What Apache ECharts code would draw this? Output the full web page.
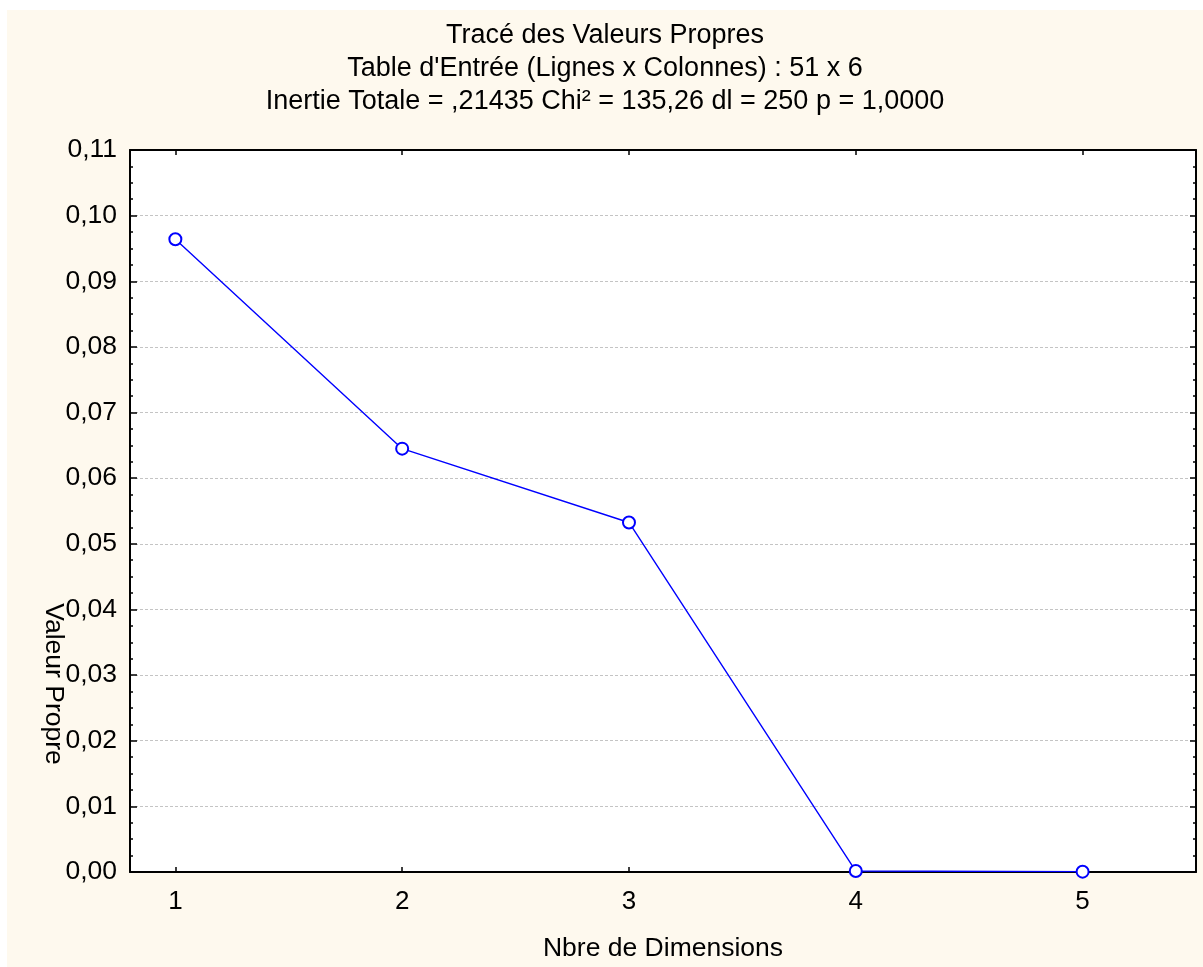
<!DOCTYPE html>
<html>
<head>
<meta charset="utf-8">
<title>Tracé des Valeurs Propres</title>
<script src="https://cdn.jsdelivr.net/npm/echarts@6/dist/echarts.min.js"></script>
<style>
  html, body { margin: 0; padding: 0; background: #ffffff; }
  #chart { position: absolute; left: 7px; top: 10px; width: 1196px; height: 957px; background: #fef9ee; }
</style>
</head>
<body>
<div id="chart"></div>
<script>
// Eigenvalues of the correspondence analysis (51 x 6 table)
const dimensions = [1, 2, 3, 4, 5];
const eigenvalues = [0.09640, 0.06450, 0.05325, 0.00015, 0.00005];
const xTicks = [1, 2, 3, 4, 5];

const titleLines = [
  "Tracé des Valeurs Propres",
  "Table d'Entrée (Lignes x Colonnes) : 51 x 6",
  "Inertie Totale = ,21435 Chi² = 135,26 dl = 250 p = 1,0000"
];
const xName = "Nbre de Dimensions";
const yName = "Valeur Propre";

const FONT = "'Liberation Sans', Arial, sans-serif";
const points = dimensions.map((d, i) => [d, eigenvalues[i]]);
const fmt = v => v.toFixed(2).replace('.', ',');

const chart = echarts.init(document.getElementById('chart'), null, { renderer: 'canvas' });

const axisLineStyle = { color: '#000', width: 2 };

chart.setOption({
  animation: false,
  backgroundColor: 'transparent',
  title: titleLines.map((t, i) => ({
    text: t,
    left: 'center',
    top: 12 + i * 33,
    padding: 0,
    textStyle: { fontFamily: FONT, fontSize: 27, fontWeight: 'normal', color: '#000', lineHeight: 27 }
  })),
  grid: {
    left: 123, top: 140, right: 7, bottom: 91,
    show: true, backgroundColor: '#ffffff', borderWidth: 0
  },
  xAxis: [{
    type: 'value',
    min: 0.8, max: 5.5,
    position: 'bottom',
    name: xName,
    nameLocation: 'middle',
    nameGap: 63,
    nameTextStyle: { fontFamily: FONT, fontSize: 26.5, color: '#000' },
    axisLine: { show: true, onZero: false, lineStyle: axisLineStyle },
    axisTick: { show: true, inside: true, length: 5, customValues: xTicks, lineStyle: { color: '#000', width: 1.5 } },
    axisLabel: { show: true, margin: 17, customValues: xTicks, fontFamily: FONT, fontSize: 26, color: '#000', formatter: v => String(v) },
    splitLine: { show: false }
  }, {
    type: 'value',
    min: 0.8, max: 5.5,
    position: 'top',
    axisLine: { show: true, onZero: false, lineStyle: axisLineStyle },
    axisTick: { show: true, inside: true, length: 5, customValues: xTicks, lineStyle: { color: '#000', width: 1.5 } },
    axisLabel: { show: false },
    splitLine: { show: false }
  }],
  yAxis: [{
    type: 'value',
    min: 0, max: 0.11, interval: 0.01,
    position: 'left',
    axisLine: { show: true, onZero: false, lineStyle: axisLineStyle },
    axisTick: { show: true, inside: true, length: 7, lineStyle: { color: '#000', width: 1.5 } },
    minorTick: { show: true, splitNumber: 4, length: 3, lineStyle: { color: '#000', width: 1.5 } },
    axisLabel: { show: true, margin: 13, fontFamily: FONT, fontSize: 26.5, color: '#000', formatter: fmt, showMinLabel: true, showMaxLabel: true },
    splitLine: { show: true, lineStyle: { color: '#c4c4c4', width: 1, type: [3, 2] } }
  }, {
    type: 'value',
    min: 0, max: 0.11, interval: 0.01,
    position: 'right',
    axisLine: { show: true, onZero: false, lineStyle: axisLineStyle },
    axisTick: { show: true, inside: true, length: 6, lineStyle: { color: '#000', width: 1.5 } },
    minorTick: { show: true, splitNumber: 4, length: 3, lineStyle: { color: '#000', width: 1.5 } },
    axisLabel: { show: false },
    splitLine: { show: false }
  }],
  graphic: [{
    type: 'text',
    x: 46, y: 674,
    rotation: -Math.PI / 2,
    style: {
      text: yName,
      fontFamily: FONT, fontSize: 26.5, fill: '#000',
      align: 'center', verticalAlign: 'middle'
    },
    z: 100
  }],
  series: [{
    type: 'line',
    xAxisIndex: 0, yAxisIndex: 0,
    data: points,
    symbol: 'circle',
    symbolSize: 12,
    showSymbol: true,
    lineStyle: { color: '#0000ff', width: 1.4 },
    itemStyle: { color: '#ffffff', borderColor: '#0000ff', borderWidth: 2 },
    emphasis: { disabled: true },
    z: 5
  }]
});
</script>
</body>
</html>
